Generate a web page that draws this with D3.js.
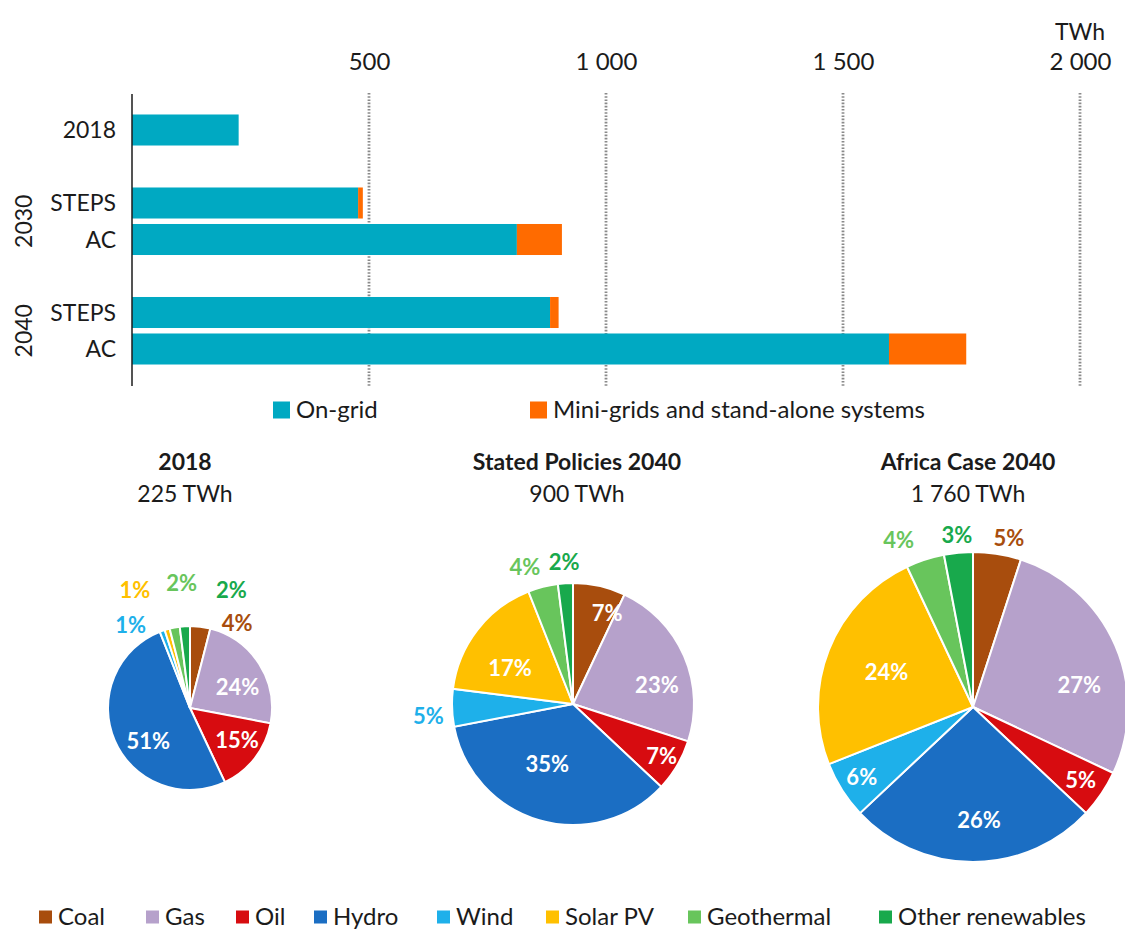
<!DOCTYPE html>
<html>
<head>
<meta charset="utf-8">
<script src="https://cdn.jsdelivr.net/npm/d3@7/dist/d3.min.js"></script>
<style>
  body { margin: 0; background: #fff; }
  text { font-family: Lato, "Open Sans", sans-serif; fill: #1b1b1b; }
</style>
</head>
<body>
<svg id="chart" width="1125" height="930"></svg>
<script>
// --- bar chart data (TWh)
var barLabels = ["2018", "STEPS", "AC", "STEPS", "AC"],
    barYears = ["", "2030", "2030", "2040", "2040"],
    onGrid = [225, 477, 812, 882, 1597],
    miniGrid = [0, 10, 95, 18, 163],
    xTicks = [500, 1000, 1500, 2000],
    barSeries = ["On-grid", "Mini-grids and stand-alone systems"];

// --- pie data (% shares)
var fuels = ["Coal", "Gas", "Oil", "Hydro", "Wind", "Solar PV", "Geothermal", "Other renewables"],
    pieTitles = ["2018", "Stated Policies 2040", "Africa Case 2040"],
    pieTotals = ["225 TWh", "900 TWh", "1 760 TWh"],
    share2018 = [4, 24, 15, 51, 1, 1, 2, 2],
    shareSteps = [7, 23, 7, 35, 5, 17, 4, 2],
    shareAc = [5, 27, 5, 26, 6, 24, 4, 3];

var fuelColors = ["#a84d0d", "#b6a1cb", "#d70c10", "#1b6ec3", "#1eb0ea", "#ffc000", "#68c55c", "#18a94c"],
    barColors = ["#00a9c2", "#ff6b00"];

var svg = d3.select("#chart");

// ---------- bar chart ----------
var x = d3.scaleLinear().domain([0, 2000]).range([132, 1080]);

// rows with an empty slot between year groups
var slots = [], rows = [];
barLabels.forEach(function (l, i) {
    if (i > 0 && barYears[i] !== barYears[i - 1]) slots.push("gap" + i);
    var key = (barYears[i] + " " + l).trim();
    slots.push(key);
    rows.push({ key: key, label: l, year: barYears[i], on: onGrid[i], mini: miniGrid[i] });
});

var y = d3.scaleBand().domain(slots).range([111.75, 367.25])
    .paddingInner(0.15).paddingOuter(0.075);

// dotted gridlines
svg.append("g").selectAll("line").data(xTicks).join("line")
    .attr("x1", function (d) { return x(d); })
    .attr("x2", function (d) { return x(d); })
    .attr("y1", 93).attr("y2", 387)
    .attr("stroke", "#8a8a8a")
    .attr("stroke-width", 2.8)
    .attr("stroke-dasharray", "1.6,1.6");

var axis = d3.axisTop(x).tickValues(xTicks).tickSize(0).tickPadding(0)
    .tickFormat(function (d) { return d3.format(",")(d).replace(",", " "); });
var axisG = svg.append("g").attr("transform", "translate(0,70)").call(axis);
axisG.select(".domain").remove();
axisG.selectAll("text").attr("font-size", 24).attr("font-family", "Lato").attr("fill", "#1b1b1b");

svg.append("text").attr("x", x(2000)).attr("y", 40)
    .attr("text-anchor", "middle").attr("font-size", 23).text("TWh");

var stack = d3.stack().keys(["on", "mini"]);
svg.append("g").selectAll("g").data(stack(rows)).join("g")
    .attr("fill", function (d, i) { return barColors[i]; })
    .selectAll("rect").data(function (d) { return d; }).join("rect")
    .attr("x", function (d) { return x(d[0]); })
    .attr("width", function (d) { return x(d[1]) - x(d[0]); })
    .attr("y", function (d) { return y(d.data.key); })
    .attr("height", y.bandwidth());

// axis line
svg.append("line").attr("x1", x(0)).attr("x2", x(0)).attr("y1", 94).attr("y2", 386)
    .attr("stroke", "#1b1b1b").attr("stroke-width", 1.5);

svg.append("g").selectAll("text").data(rows).join("text")
    .attr("x", 116)
    .attr("y", function (d) { return y(d.key) + y.bandwidth() / 2; })
    .attr("dy", "0.35em")
    .attr("text-anchor", "end")
    .attr("font-size", 23)
    .text(function (d) { return d.label; });

var years = Array.from(d3.group(rows.filter(function (d) { return d.year; }), function (d) { return d.year; }));
svg.append("g").selectAll("text").data(years).join("text")
    .attr("transform", function (d) {
        var cy = d3.mean(d[1], function (r) { return y(r.key) + y.bandwidth() / 2; });
        return "translate(24," + cy + ") rotate(-90)";
    })
    .attr("dy", "0.35em")
    .attr("text-anchor", "middle")
    .attr("font-size", 23)
    .text(function (d) { return d[0]; });

// bar legend
var barLegendX = [273, 530];
var bl = svg.append("g").selectAll("g").data(barSeries).join("g")
    .attr("transform", function (d, i) { return "translate(" + barLegendX[i] + ",410)"; });
bl.append("rect").attr("x", 0).attr("y", -8.5).attr("width", 17).attr("height", 17)
    .attr("fill", function (d, i) { return barColors[i]; });
bl.append("text").attr("x", 23).attr("dy", "0.35em").attr("font-size", 24)
    .text(function (d) { return d; });

// ---------- pies ----------
var pieLayout = [
    { cx: 190, cy: 708, r: 82, tx: 185 },
    { cx: 573, cy: 704, r: 121, tx: 577 },
    { cx: 973, cy: 707, r: 155, tx: 968 }
];
// label placement: angle shift (deg) from slice middle, distance as share of radius
var labelShift = [
    [22, 9, -3, -15, -16, -9, 7, 23],
    [8, 11, 0, 7, -3, -8, -5, 0],
    [3, 12, 0, -3, 0, 0, -6, 0]
];
var labelDist = [
    [1.18, 0.63, 0.7, 0.65, 1.24, 1.58, 1.52, 1.52],
    [0.8, 0.71, 0.85, 0.54, 1.2, 0.6, 1.2, 1.17],
    [1.11, 0.7, 0.84, 0.73, 0.85, 0.6, 1.18, 1.11]
];

var pie = d3.pie().sort(null).value(function (d) { return d; });
[share2018, shareSteps, shareAc].forEach(function (shares, p) {
    var L = pieLayout[p],
        arc = d3.arc().innerRadius(0).outerRadius(L.r),
        g = svg.append("g").attr("transform", "translate(" + L.cx + "," + L.cy + ")"),
        arcs = pie(shares);

    g.selectAll("path").data(arcs).join("path")
        .attr("d", arc)
        .attr("fill", function (d, i) { return fuelColors[i]; })
        .attr("stroke", "#fff")
        .attr("stroke-width", 2);

    g.selectAll("text").data(arcs).join("text")
        .attr("transform", function (d, i) {
            var a = (d.startAngle + d.endAngle) / 2 + labelShift[p][i] * Math.PI / 180,
                rr = L.r * labelDist[p][i];
            return "translate(" + (Math.sin(a) * rr) + "," + (-Math.cos(a) * rr) + ")";
        })
        .attr("dy", "0.35em")
        .attr("text-anchor", "middle")
        .attr("font-size", 22)
        .attr("font-weight", "bold")
        .style("fill", function (d, i) { return labelDist[p][i] < 1 ? "#fff" : fuelColors[i]; })
        .text(function (d) { return d.data + "%"; });

    svg.append("text").attr("x", L.tx).attr("y", 462).attr("dy", "0.35em")
        .attr("text-anchor", "middle").attr("font-size", 23).attr("font-weight", "bold")
        .text(pieTitles[p]);
    svg.append("text").attr("x", L.tx).attr("y", 494).attr("dy", "0.35em")
        .attr("text-anchor", "middle").attr("font-size", 23)
        .text(pieTotals[p]);
});

// fuel legend
var fuelLegendX = [39, 146, 236, 314, 437, 546, 688, 879];
var fl = svg.append("g").selectAll("g").data(fuels).join("g")
    .attr("transform", function (d, i) { return "translate(" + fuelLegendX[i] + ",917)"; });
fl.append("rect").attr("x", 0).attr("y", -6.5).attr("width", 13).attr("height", 13)
    .attr("fill", function (d, i) { return fuelColors[i]; });
fl.append("text").attr("x", 19).attr("dy", "0.35em").attr("font-size", 24)
    .text(function (d) { return d; });
</script>
</body>
</html>
